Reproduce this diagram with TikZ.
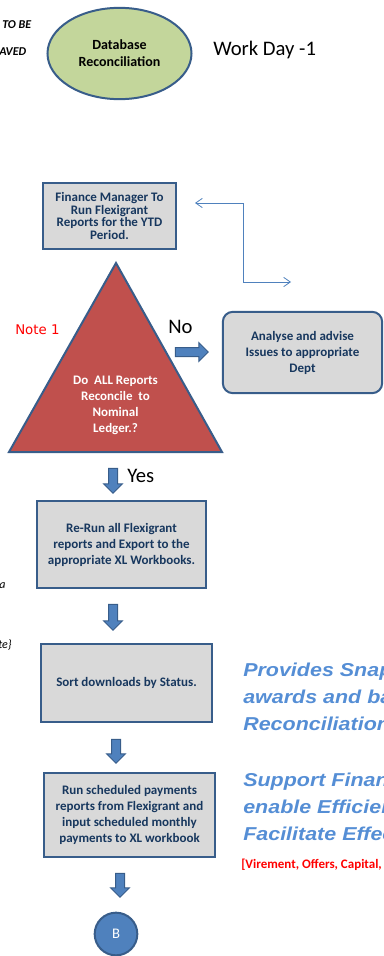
\documentclass[tikz,border=0pt]{standalone}
\usepackage{fontspec}
\setmainfont{Carlito}
\newfontfamily\arialfont{Liberation Sans}
\newfontfamily\notefont{DejaVu Sans}
\usetikzlibrary{shapes.geometric,shapes.arrows,arrows.meta}
\definecolor{boxgrey}{HTML}{D9D9D9}
\definecolor{edgeblue}{HTML}{385D8A}
\definecolor{navytext}{HTML}{17375E}
\definecolor{leafgreen}{HTML}{C3D69B}
\definecolor{brickred}{HTML}{C0504D}
\definecolor{accentblue}{HTML}{4F81BD}
\definecolor{skyblue}{HTML}{558ED5}

\begin{document}
\begin{tikzpicture}[x=0.75pt,y=0.75pt,yscale=-1,xscale=1,
    procbox/.style={rectangle, draw=edgeblue, line width=1.5pt, fill=boxgrey, align=center, text=navytext, inner sep=0pt, font=\bfseries\fontsize{9.75}{12}\selectfont},
    blockarrow/.style={single arrow, draw=edgeblue, line width=0.75pt, fill=accentblue, inner sep=3pt, single arrow head extend=3.75pt, single arrow tip angle=90, minimum height=#1},
    fbline/.style={draw=accentblue, line width=0.6pt, {Straight Barb[length=5pt,width=7pt]}-{Straight Barb[length=5pt,width=7pt]}},
    bigword/.style={anchor=west, inner sep=0pt, font=\fontsize{15.5}{18}\selectfont},
    bluetext/.style={anchor=west, inner sep=0pt, align=left, text=skyblue, font=\arialfont\bfseries\itshape\fontsize{14}{20.25}\selectfont},
    cutword/.style={anchor=west, inner sep=0pt, font=\itshape\fontsize{9}{10}\selectfont}]
\useasboundingbox (0,0) rectangle (384,956);

\draw (2,25) node [cutword] (tobe) {\bfseries TO BE};
\draw (-1,52) node [cutword] (aved) {\bfseries AVED};
\draw (-1,586) node [cutword] (cuta) {a};
\draw (-2,645) node [cutword] (cutte) {te\}};

\draw (119.5,53.5) node [ellipse, draw=edgeblue, line width=1.5pt, fill=leafgreen, minimum width=108pt, minimum height=68.5pt, align=center, font=\bfseries\fontsize{10.5}{12.75}\selectfont] (dbrec) {Database\\Reconciliation};
\draw (213,50) node [bigword] (workday) {Work Day -1};

\draw (109.5,216) node [procbox, minimum width=100pt, minimum height=50pt, font=\bfseries\fontsize{9.75}{9.6}\selectfont] (runrep) {Finance Manager To\\Run Flexigrant\\Reports for the YTD\\Period.};
\coordinate (fbA) at (195,203);
\coordinate (fbB) at (291,282);
\draw [fbline] (fbA) -- ++(48,0) |- (fbB);

\coordinate (apex) at (116,263);
\coordinate (baseL) at (9,452);
\coordinate (baseR) at (222,452);
\draw [draw=edgeblue, line width=1.5pt, fill=brickred] (apex) -- (baseR) -- (baseL) -- cycle;
\draw (115.5,405) node [align=center, text=white, inner sep=0pt, font=\bfseries\fontsize{9.75}{12}\selectfont] (recq) {Do\ \ ALL Reports\\Reconcile\ \ to\\Nominal\\Ledger.?};
\draw (15,330) node [anchor=west, inner sep=0pt, text=red, font=\notefont\fontsize{10}{12}\selectfont] (note) {Note 1};

\draw (168,327) node [bigword] (nolbl) {No};
\draw (189.5,352) node [blockarrow=24.75pt] (noarr) {};
\draw (302.5,352.5) node [procbox, rounded corners=7.5pt, minimum width=119.5pt, minimum height=61pt] (analyse) {Analyse and advise\\Issues to appropriate\\Dept};

\draw (113,478.5) node [blockarrow=18.75pt, rotate=-90] (yesarr) {};
\draw (127,476) node [bigword] (yeslbl) {Yes};

\draw (121.5,544.5) node [procbox, minimum width=127pt, minimum height=65.5pt] (rerun) {Re-Run all Flexigrant\\reports and Export to the\\appropriate XL Workbooks.};
\draw (113,615) node [blockarrow=19.5pt, rotate=-90] (arrB) {};

\draw (126.5,683) node [procbox, minimum width=128.5pt, minimum height=58.5pt] (sortdl) {Sort downloads by Status.};
\draw (116,749) node [blockarrow=18pt, rotate=-90] (arrC) {};

\draw (129.5,815) node [procbox, minimum width=128.5pt, minimum height=63pt] (schpay) {Run scheduled payments\\reports from Flexigrant and\\input scheduled monthly\\payments to XL workbook};
\draw (120,883) node [blockarrow=18pt, rotate=-90] (arrD) {};

\draw (116,934) node [circle, draw=edgeblue, line width=1.5pt, fill=accentblue, minimum size=32pt, inner sep=0pt, text=white, font=\fontsize{11}{12}\selectfont] (toB) {B};

\draw (243,697) node [bluetext] (snap) {\scalebox{1.15}[1]{Provides Snap}\\\scalebox{1.15}[1]{awards and ba}\\\scalebox{1.15}[1]{Reconciliation}};
\draw (243,807) node [bluetext] (support) {\scalebox{1.15}[1]{Support Finan}\\\scalebox{1.15}[1]{enable Efficien}\\\scalebox{1.15}[1]{Facilitate Effec}};
\draw (241,865) node [anchor=west, inner sep=0pt, text=red, font=\bfseries\fontsize{9.75}{11}\selectfont] (virement) {[Virement, Offers, Capital,};
\end{tikzpicture}
\end{document}
